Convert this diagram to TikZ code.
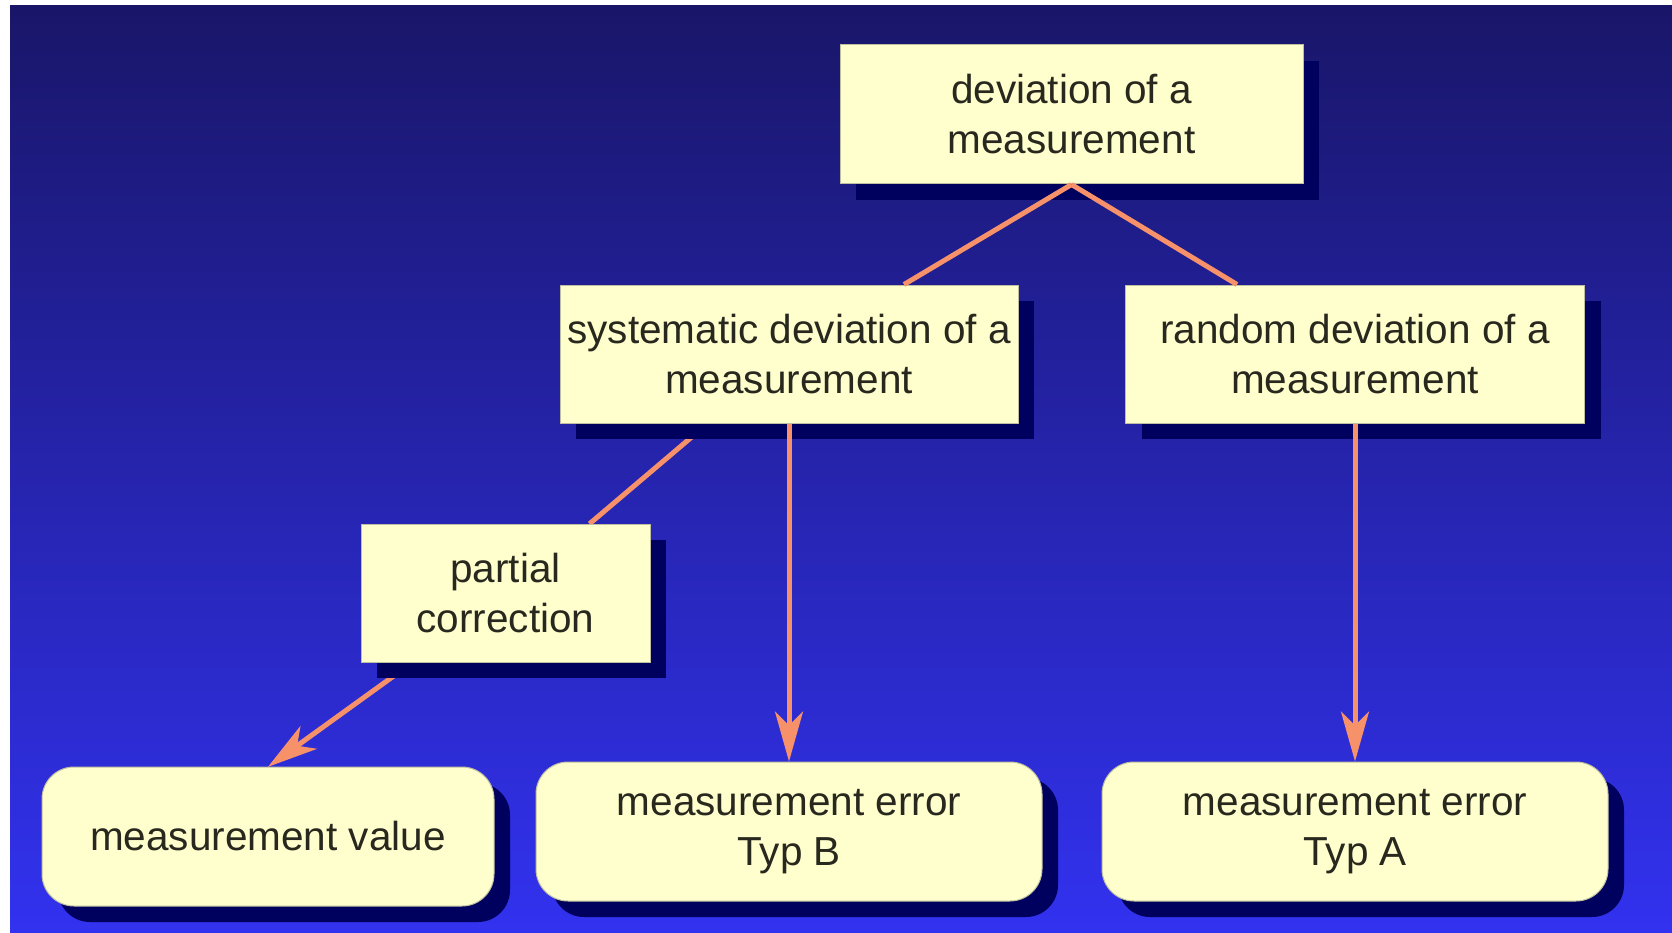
\documentclass[tikz,border=0pt]{standalone}
\usepackage{fontspec}
\setmainfont{Liberation Sans}
\usetikzlibrary{shadows,arrows.meta,calc}
\definecolor{bgtop}{RGB}{25,22,105}
\definecolor{bgmid}{RGB}{34,32,170}
\definecolor{bgbot}{RGB}{50,50,240}
\definecolor{boxfill}{RGB}{255,255,206}
\definecolor{boxborder}{RGB}{190,190,160}
\definecolor{shadowc}{RGB}{0,0,95}
\definecolor{linkc}{RGB}{246,145,105}
\definecolor{textc}{RGB}{40,40,30}
\begin{document}
\begin{tikzpicture}[x=1pt,y=-1pt,
  box/.style={draw=boxborder, line width=1pt, fill=boxfill, text=textc, align=center,
    inner sep=0pt, font=\fontsize{40.5}{50}\selectfont,
    drop shadow={shadow xshift=16pt, shadow yshift=-16pt, fill=shadowc, opacity=1}},
  rbox/.style={box, rounded corners=32pt},
  link/.style={draw=linkc, line width=5pt},
  arr/.style={link, -{Stealth[length=50pt,width=28pt,inset=14pt]}}]
\useasboundingbox (0,0) rectangle (1672,933);
\shade[top color=bgtop, middle color=bgmid, bottom color=bgbot] (10,6) rectangle (1672,933);
\coordinate (c1) at (1071.5,114.5);
\coordinate (c2) at (789,354);
\coordinate (c3) at (1355,354);
\coordinate (c4) at (505.5,593);
\coordinate (c5) at (268,836.5);
\coordinate (c6) at (789,831.5);
\coordinate (c7) at (1355,831.5);
% invisible placeholders to draw the hidden connectors before the boxes
\path (c2) node[minimum width=458pt, minimum height=138pt, inner sep=0pt] (p2) {};
\path (c4) node[minimum width=289pt, minimum height=138pt, inner sep=0pt] (p4) {};
\path (c5) node[minimum width=452pt, minimum height=139pt, inner sep=0pt] (p5) {};
\draw[link] ([xshift=-81pt]p2.south) -- ([xshift=84pt]p4.north);
\draw[arr] ([xshift=52pt]p4.south west) -- (p5.north);
% boxes
\node[box, minimum width=463pt, minimum height=139pt] (b1) at (c1) {deviation of a\\measurement};
\node[box, minimum width=458pt, minimum height=138pt] (b2) at (c2) {systematic deviation of a\\measurement};
\node[box, minimum width=459pt, minimum height=138pt] (b3) at (c3) {random deviation of a\\measurement};
\node[box, minimum width=289pt, minimum height=138pt] (b4) at (c4) {partial\\correction};
\node[rbox, minimum width=452pt, minimum height=139pt] (b5) at (c5) {measurement value};
\node[rbox, minimum width=506pt, minimum height=139pt] (b6) at (c6) {measurement error\\Typ B};
\node[rbox, minimum width=506pt, minimum height=139pt] (b7) at (c7) {measurement error\\Typ A};
% connectors drawn over the shadows
\draw[link] (b1.south) -- ([xshift=115pt]b2.north);
\draw[link] (b1.south) -- ([xshift=-118pt]b3.north);
\draw[arr] (b2.south) -- (b6.north);
\draw[arr] (b3.south) -- (b7.north);
\end{tikzpicture}
\end{document}
